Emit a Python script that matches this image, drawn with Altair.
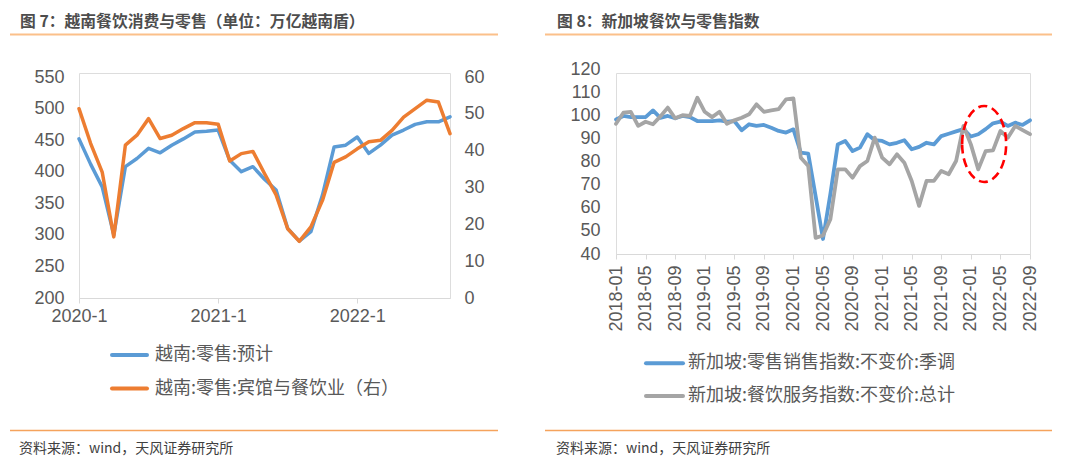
import altair as alt
import pandas as pd

# ---------------- colours / fonts ----------------
BLUE = "#5B9BD5"
ORANGE = "#ED7D31"
GRAY = "#A5A5A5"
AXIS_GRAY = "#D9D9D9"
LABEL = "#595959"
CJK = "Noto Sans CJK SC"
LATIN = "Liberation Sans"

# ---------------- Figure 7 : Vietnam ----------------
vn_title = "图 7：越南餐饮消费与零售（单位：万亿越南盾）"
vn_months = [f"{y}-{m}" for y in (2020, 2021, 2022) for m in range(1, 13)][:33]
vn_ticks = ["2020-1", "2021-1", "2022-1"]
vn_names = ["越南:零售:预计", "越南:零售:宾馆与餐饮业（右）"]
vn_retail = [452, 412, 376, 300, 408, 421, 437, 430, 442, 452,
             463, 464, 466, 418, 400, 408, 388, 371, 310, 290,
             305, 363, 439, 442, 455, 429, 442, 458, 466, 475,
             479, 479, 487]
vn_hotel = [51.4, 42.0, 34.2, 16.6, 41.5, 44.2, 48.7, 43.3, 44.2, 46.0,
            47.6, 47.6, 47.2, 37.2, 39.2, 39.8, 33.8, 28.0, 18.8, 15.4,
            19.3, 26.5, 36.8, 38.3, 40.5, 42.4, 42.8, 45.5, 49.1, 51.4,
            53.7, 53.2, 44.6]
vn_left_ticks = [200, 250, 300, 350, 400, 450, 500, 550]
vn_right_ticks = [0, 10, 20, 30, 40, 50, 60]

# ---------------- Figure 8 : Singapore ----------------
sg_title = "图 8：新加坡餐饮与零售指数"
sg_months = [f"{y}-{m:02d}" for y in range(2018, 2023) for m in range(1, 13)][:57]
sg_ticks = sg_months[::4]
sg_names = ["新加坡:零售销售指数:不变价:季调", "新加坡:餐饮服务指数:不变价:总计"]
sg_retail = [98.2, 99.7, 99.2, 99.2, 99.2, 102.1, 98.9, 99.7, 98.7, 99.7,
             99.2, 97.5, 97.5, 97.5, 97.8, 97.2, 97.5, 93.5, 96.1, 95.4,
             95.8, 94.6, 93.2, 92.5, 93.9, 83.8, 83.4, 65.0, 46.5, 66.0,
             87.4, 88.9, 84.5, 86.0, 91.8, 89.2, 88.9, 87.4, 88.1, 89.2,
             85.3, 86.3, 88.1, 87.4, 91.0, 92.0, 93.0, 94.0, 90.8, 91.8,
             94.0, 96.5, 97.2, 95.4, 96.8, 95.8, 97.8]
sg_fnb = [96.3, 101.1, 101.5, 95.4, 97.2, 96.1, 99.5, 103.3, 98.7, 100.0,
          99.7, 107.6, 101.5, 99.2, 101.5, 96.3, 97.8, 98.9, 100.4, 104.7,
          101.5, 102.1, 102.6, 106.9, 107.3, 81.6, 78.1, 47.0, 48.0, 55.0,
          76.6, 76.6, 73.0, 78.0, 80.2, 90.3, 81.7, 78.8, 83.1, 79.5,
          71.6, 60.8, 71.6, 71.6, 75.9, 74.5, 80.2, 95.4, 87.4, 76.6,
          84.5, 84.8, 93.2, 90.3, 95.4, 93.6, 91.8]
sg_y_ticks = [40, 50, 60, 70, 80, 90, 100, 110, 120]
highlight_month = ["2022-02"]
highlight_value = [87.6]

source_text = "资料来源：wind，天风证券研究所"


# ---------------- helpers for decorations ----------------
def text_layer(txt, x, y, size, color, weight="normal", font=CJK):
    return alt.Chart(pd.DataFrame({"t": [txt]})).mark_text(
        align="left", baseline="middle", fontSize=size, font=font,
        fontWeight=weight, color=color
    ).encode(x=alt.value(x), y=alt.value(y), text="t:N")


def hrule(x1, x2, y, color, width, cap="butt", opacity=1):
    return alt.Chart(pd.DataFrame({"a": [0]})).mark_rule(
        color=color, strokeWidth=width, strokeCap=cap, opacity=opacity
    ).encode(x=alt.value(x1), x2=alt.value(x2), y=alt.value(y))


# ---------------- left panel ----------------
W1, H1 = 371, 225
vn_df = pd.DataFrame({"month": vn_months, "retail": vn_retail, "hotel": vn_hotel})

x_vn = alt.X(
    "month:O",
    scale=alt.Scale(type="point", domain=vn_months, padding=0),
    axis=alt.Axis(values=vn_ticks, labelAngle=0, title=None, grid=False,
                  domainColor=AXIS_GRAY, tickColor=AXIS_GRAY, tickSize=5,
                  labelPadding=4, labelFontSize=18, labelFont=LATIN,
                  labelColor=LABEL, labelOverlap=False),
)

vn_blue = alt.Chart(vn_df).mark_line(
    color=BLUE, strokeWidth=3.5, strokeCap="round", strokeJoin="round"
).encode(
    x=x_vn,
    y=alt.Y("retail:Q",
            scale=alt.Scale(domain=[200, 550], range=[H1, 4]),
            axis=alt.Axis(orient="left", values=vn_left_ticks, title=None,
                          grid=False, domain=False, ticks=False, tickSize=0,
                          labelPadding=15, labelFontSize=18, labelFont=LATIN,
                          labelColor=LABEL)),
)
vn_orange = alt.Chart(vn_df).mark_line(
    color=ORANGE, strokeWidth=3.5, strokeCap="round", strokeJoin="round"
).encode(
    x=x_vn,
    y=alt.Y("hotel:Q",
            scale=alt.Scale(domain=[0, 60], range=[H1, 4]),
            axis=alt.Axis(orient="right", values=vn_right_ticks, title=None,
                          grid=False, domain=False, ticks=False, tickSize=0,
                          labelPadding=14, labelFontSize=18, labelFont=LATIN,
                          labelColor=LABEL)),
)

left = alt.layer(
    vn_blue,
    vn_orange,
    hrule(-69.5, -68.5, -63.5, "#FFFFFF", 1),  # white page anchor (top-left)
    text_layer(vn_title, -59, -51.5, 15.8, "#4D4D4D", weight="bold"),
    hrule(-69, 419, -38.5, "#FBC08A", 2),
    hrule(33, 68, 282, BLUE, 4, cap="round"),
    text_layer(vn_names[0], 76, 282, 18, LABEL),
    hrule(33, 68, 315.5, ORANGE, 4, cap="round"),
    text_layer(vn_names[1], 76, 315.5, 18, LABEL),
    hrule(-69, 419, 357.5, "#F5A35C", 1.3),
    text_layer(source_text, -60, 375.5, 14, "#404040"),
).resolve_scale(y="independent").properties(width=W1, height=H1)

# ---------------- right panel ----------------
W2, H2 = 414, 181
sg_df = pd.DataFrame({"month": sg_months, "retail": sg_retail, "fnb": sg_fnb})
x_sg_scale = alt.Scale(type="point", domain=sg_months, padding=0)
y_sg_scale = alt.Scale(domain=[40, 120], range=[H2, -4])

x_sg = alt.X(
    "month:O", scale=x_sg_scale,
    axis=alt.Axis(values=sg_ticks, labelAngle=270, title=None, grid=False,
                  domainColor=AXIS_GRAY, tickColor=AXIS_GRAY, tickSize=5,
                  labelPadding=6, labelFontSize=18, labelFont=LATIN,
                  labelColor=LABEL, labelOverlap=False),
)
y_axis_sg = alt.Axis(values=sg_y_ticks, title=None, grid=False, domain=False,
                     ticks=False, tickSize=0, labelPadding=16, labelFontSize=18,
                     labelFont=LATIN, labelColor=LABEL)

sg_blue = alt.Chart(sg_df).mark_line(
    color=BLUE, strokeWidth=3.8, strokeCap="round", strokeJoin="round"
).encode(x=x_sg, y=alt.Y("retail:Q", scale=y_sg_scale, axis=y_axis_sg))
sg_gray = alt.Chart(sg_df).mark_line(
    color=GRAY, strokeWidth=3.8, strokeCap="round", strokeJoin="round"
).encode(x=x_sg, y=alt.Y("fnb:Q", scale=y_sg_scale, axis=y_axis_sg))

ELLIPSE = "M -0.424 0 A 0.579 1 0 1 1 0.734 0 A 0.579 1 0 1 1 -0.424 0 Z"
hl_df = pd.DataFrame({"month": highlight_month, "value": highlight_value})
sg_ellipse = alt.Chart(hl_df).mark_point(
    shape=ELLIPSE, size=5776, filled=False, stroke="#FF0000", strokeWidth=2.6,
    strokeDash=[9, 5], opacity=1
).encode(x=x_sg, y=alt.Y("value:Q", scale=y_sg_scale, axis=y_axis_sg))

right = alt.layer(
    sg_blue,
    sg_gray,
    sg_ellipse,
    text_layer(sg_title, -59, -51.5, 15.8, "#4D4D4D", weight="bold"),
    hrule(-71, 436, -38.5, "#FBC08A", 2),
    hrule(30, 67, 290.3, BLUE, 4, cap="round"),
    text_layer(sg_names[0], 72, 290.3, 18, LABEL),
    hrule(30, 67, 323, GRAY, 4, cap="round"),
    text_layer(sg_names[1], 72, 323, 18, LABEL),
    hrule(-71, 436, 357.5, "#F5A35C", 1.3),
    text_layer(source_text, -60, 375.5, 14, "#404040"),
).properties(width=W2, height=H2)

chart = alt.hconcat(left, right, spacing=166, bounds="flush").properties(
    padding=0
).configure_view(strokeWidth=0).configure(background="#FFFFFF")

chart.save("out.html", embed_options={"renderer": "svg", "actions": False})
